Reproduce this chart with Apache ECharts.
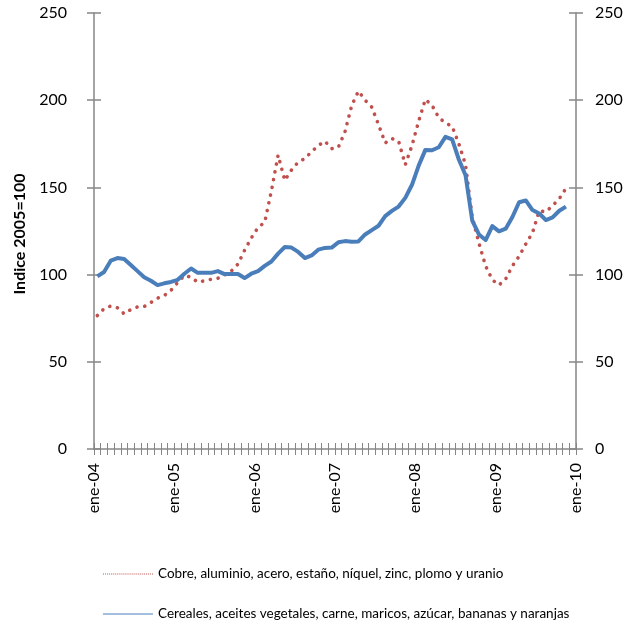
<!DOCTYPE html>
<html><head><meta charset="utf-8">
<script src="https://cdn.jsdelivr.net/npm/echarts@6/dist/echarts.min.js"></script>
<style>html,body{margin:0;padding:0;background:#fff}#c{width:636px;height:626px}</style>
</head><body><div id="c"></div>
<script>
const monthAbbr = ['ene','feb','mar','abr','may','jun','jul','ago','sep','oct','nov','dic'];
const years = ['04','05','06','07','08','09'];
const categories = [];
years.forEach(y => monthAbbr.forEach(m => categories.push(m + '-' + y)));
const tickLabels = ['ene-04','ene-05','ene-06','ene-07','ene-08','ene-09','ene-10'];
const metalsName = 'Cobre, aluminio, acero, estaño, níquel, zinc, plomo y uranio';
const foodName = 'Cereales, aceites vegetales, carne, maricos, azúcar, bananas y naranjas';
const metals = [76.5, 80.5, 82, 81, 77.5, 80, 81.5, 81.7, 84, 86.5, 88, 91,
  95.5, 99.5, 98.5, 95.6, 96.5, 97.3, 97.9, 99.8, 102, 106, 114, 121,
  127, 130, 148, 168.5, 154, 160, 164.5, 166.5, 170.5, 174, 176.5, 172.2,
  173, 182, 197, 205.2, 200, 196, 186, 175.5, 178, 176.5, 163, 174,
  188, 200.5, 197, 190, 187, 185, 175, 163, 133, 118, 105, 97,
  94, 97.5, 105, 110.5, 117.5, 124, 136.5, 136, 139.5, 143.5, 149.5];
const food = [99, 101.5, 108, 109.5, 109, 105.5, 102, 98.5, 96.5, 94, 95, 95.8,
  97, 100.5, 103.5, 101, 101, 101, 102, 100.3, 100.3, 100.3, 98, 100.5,
  102, 105, 107.5, 112, 115.8, 115.5, 113, 109.5, 111, 114.3, 115.3, 115.5,
  118.5, 119.2, 118.9, 119, 123, 125.5, 128, 133.5, 136.5, 139, 144, 151.5,
  162.5, 171.5, 171.3, 173, 179, 177.5, 166, 157, 131, 123, 119.8, 127.8,
  124.8, 126.3, 133, 141.5, 142.5, 137, 135, 131.3, 132.8, 136.6, 139];

const axisColor = '#868686';
const font = 'Lato';
// dotted legend sample: 25 unit squares with unit gaps
let dotPath = 'path://';
for (let k = 0; k < 25; k++) dotPath += 'M' + (2 * k) + ',0h1v1h-1z';
function yAx(pos, inside, labels, extra) {
  return Object.assign({
    type: 'value', position: pos, min: 0, max: 250, interval: 50,
    axisLine: { show: !inside, onZero: false, lineStyle: { color: axisColor, width: 1.5 } },
    axisTick: { show: true, inside: inside, length: 7, lineStyle: { color: axisColor, width: 1.5 } },
    axisLabel: { show: labels, color: '#000', fontFamily: font, fontSize: 16, margin: pos === 'left' ? 27 : 19 },
    splitLine: { show: false }
  }, extra || {});
}
function xCat(inside) {
  return {
    type: 'category', position: 'bottom', data: categories, boundaryGap: true,
    axisLine: { show: !inside, onZero: false, lineStyle: { color: axisColor, width: 1.5 } },
    axisTick: { show: true, inside: inside, length: 6, interval: 0, lineStyle: { color: axisColor, width: 1 } },
    axisLabel: { show: false }, splitLine: { show: false }
  };
}
const chart = echarts.init(document.getElementById('c'), null, { renderer: 'canvas' });
chart.setOption({
  animation: false,
  backgroundColor: '#fff',
  grid: { left: 94, right: 60, top: 13, bottom: 177 },
  xAxis: [
    xCat(false),
    xCat(true),
    {
      type: 'value', position: 'bottom', min: 0, max: 72, interval: 12,
      axisLine: { show: false, onZero: false }, axisTick: { show: false }, splitLine: { show: false },
      axisLabel: { show: true, rotate: 90, margin: 14, color: '#000', fontFamily: font, fontSize: 16,
        formatter: v => tickLabels[Math.round(v / 12)] }
    }
  ],
  yAxis: [
    yAx('left', false, true, {
      name: 'Indice 2005=100', nameLocation: 'middle', nameGap: 64, nameRotate: 90,
      nameTextStyle: { fontFamily: font, fontSize: 16, fontWeight: 'bold', color: '#000', padding: [0, 6, 0, 0] }
    }),
    yAx('right', false, true),
    yAx('left', true, false),
    yAx('right', true, false)
  ],
  legend: {
    orient: 'vertical', left: 103, top: 567, height: 70, padding: 0,
    itemWidth: 50, itemHeight: 1.2, itemGap: 26,
    symbolKeepAspect: false,
    textStyle: { fontFamily: font, fontSize: 13.5, color: '#000' },
    data: [
      { name: metalsName, icon: dotPath, itemStyle: { color: '#C0504D' } },
      { name: foodName, icon: 'rect', itemStyle: { color: '#4A7EBB' } }
    ]
  },
  series: [
    {
      name: metalsName, type: 'line', data: metals, xAxisIndex: 0, yAxisIndex: 0,
      symbol: 'none', smooth: false,
      lineStyle: { color: '#C0504D', width: 3.6, type: [0.1, 7.8], cap: 'round' },
      itemStyle: { color: '#C0504D' }
    },
    {
      name: foodName, type: 'line', data: food, xAxisIndex: 0, yAxisIndex: 0,
      symbol: 'none', smooth: false,
      lineStyle: { color: '#4A7EBB', width: 4, join: 'round' },
      itemStyle: { color: '#4A7EBB' }
    }
  ]
});
</script></body></html>
